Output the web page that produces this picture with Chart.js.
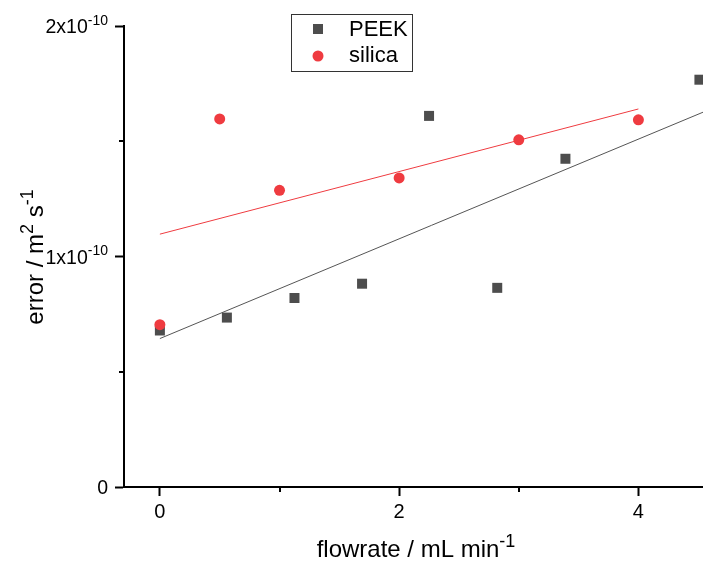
<!DOCTYPE html>
<html>
<head>
<meta charset="utf-8">
<script src="https://cdn.jsdelivr.net/npm/chart.js@4.4.1/dist/chart.umd.min.js"></script>
<style>
html,body{margin:0;padding:0;background:#fff;}
#wrap{width:703px;height:563px;position:relative;}
</style>
</head>
<body>
<div id="wrap"><canvas id="c" width="703" height="563"></canvas></div>
<script>
// ---- data ----
const peekX = [0, 0.56, 1.125, 1.69, 2.25, 2.82, 3.39, 4.51];
const peekY = [0.679e-10, 0.735e-10, 0.82e-10, 0.882e-10, 1.61e-10, 0.864e-10, 1.424e-10, 1.767e-10];
const silicaX = [0, 0.5, 1, 2, 3, 4];
const silicaY = [0.704e-10, 1.597e-10, 1.287e-10, 1.341e-10, 1.506e-10, 1.593e-10];
const peekFitX = [0, 4.54];
const peekFitY = [0.644e-10, 1.626e-10];
const silicaFitX = [0, 4];
const silicaFitY = [1.097e-10, 1.640e-10];
const xTickValues = [0, 2, 4];
const xMinorTicks = [1, 3];
const yTickValues = [0, 1e-10, 2e-10];
const yTickLabels = ['0', '1x10^{-10}', '2x10^{-10}'];
const yMinorTicks = [0.5e-10, 1.5e-10];
const seriesNames = ['PEEK', 'silica'];
const xTitle = 'flowrate / mL min^{-1}';
const yTitle = 'error / m^{2} s^{-1}';

const FONT = '"Liberation Sans", Arial, sans-serif';
const PEEK_COL = '#4d4d4d';
const SIL_COL = '#ef3b40';
const SUP = 0.74;

function pts(xs, ys){ return xs.map((x,i)=>({x:x, y:ys[i]})); }

function parseSup(s){
  const parts = [];
  const re = /\^\{([^}]*)\}/g;
  let last = 0, m;
  while((m = re.exec(s))){
    if(m.index > last) parts.push({t:s.slice(last, m.index), sup:false});
    parts.push({t:m[1], sup:true});
    last = re.lastIndex;
  }
  if(last < s.length) parts.push({t:s.slice(last), sup:false});
  return parts;
}
function measureSup(ctx, parts, size){
  let w = 0;
  parts.forEach(p=>{
    ctx.font = (p.sup ? Math.round(size*SUP) : size) + 'px ' + FONT;
    w += ctx.measureText(p.t).width;
  });
  return w;
}
// draws text with superscripts; (x,y) = baseline position, align left/center/right
function drawSup(ctx, s, x, y, size, align){
  const parts = parseSup(s);
  const w = measureSup(ctx, parts, size);
  let cx = align === 'right' ? x - w : align === 'center' ? x - w/2 : x;
  ctx.textBaseline = 'alphabetic';
  ctx.textAlign = 'left';
  parts.forEach(p=>{
    const fs = p.sup ? Math.round(size*SUP) : size;
    ctx.font = fs + 'px ' + FONT;
    ctx.fillText(p.t, cx, p.sup ? y - size*0.42 : y);
    cx += ctx.measureText(p.t).width;
  });
}

const decor = {
  id: 'decor',
  afterDraw(chart){
    const ctx = chart.ctx;
    const xs = chart.scales.x, ys = chart.scales.y;
    const area = chart.chartArea;
    ctx.save();
    ctx.fillStyle = '#000';
    ctx.strokeStyle = '#000';
    ctx.lineWidth = 2;
    // minor ticks
    xMinorTicks.forEach(v=>{
      const px = Math.round(xs.getPixelForValue(v));
      ctx.beginPath(); ctx.moveTo(px, area.bottom); ctx.lineTo(px, area.bottom + 5); ctx.stroke();
    });
    yMinorTicks.forEach(v=>{
      const py = Math.round(ys.getPixelForValue(v));
      ctx.beginPath(); ctx.moveTo(area.left, py); ctx.lineTo(area.left - 5, py); ctx.stroke();
    });
    // y tick labels with superscripts
    yTickValues.forEach((v,i)=>{
      const py = ys.getPixelForValue(v);
      drawSup(ctx, yTickLabels[i], area.left - 16, py + 7, 19.5, 'right');
    });
    // axis titles
    drawSup(ctx, xTitle, 416, 557, 24, 'center');
    ctx.save();
    ctx.translate(43, 257);
    ctx.rotate(-Math.PI/2);
    drawSup(ctx, yTitle, 0, 0, 24, 'center');
    ctx.restore();
    // legend
    const lx = 291, ly = 14, lw = 121, lh = 57;
    ctx.fillStyle = '#fff';
    ctx.fillRect(lx, ly, lw, lh);
    ctx.strokeStyle = '#333';
    ctx.lineWidth = 1;
    ctx.strokeRect(lx + 0.5, ly + 0.5, lw, lh);
    ctx.fillStyle = PEEK_COL;
    ctx.fillRect(318 - 5, 29 - 5, 10, 10);
    ctx.fillStyle = SIL_COL;
    ctx.beginPath(); ctx.arc(318, 56, 5.5, 0, Math.PI*2); ctx.fill();
    ctx.fillStyle = '#000';
    ctx.font = '22px ' + FONT;
    ctx.textAlign = 'left';
    ctx.textBaseline = 'middle';
    ctx.fillText(seriesNames[0], 349, 30);
    ctx.fillText(seriesNames[1], 349, 56);
    ctx.restore();
  }
};

new Chart(document.getElementById('c'), {
  type: 'scatter',
  data: {
    datasets: [
      { label: seriesNames[1] + ' fit', type: 'line', data: pts(silicaFitX, silicaFitY),
        borderColor: SIL_COL, borderWidth: 1, pointRadius: 0, fill: false, showLine: true, clip: false, order: 4 },
      { label: seriesNames[0] + ' fit', type: 'line', data: pts(peekFitX, peekFitY),
        borderColor: '#555', borderWidth: 1, pointRadius: 0, fill: false, showLine: true, clip: false, order: 3 },
      { label: seriesNames[0], data: pts(peekX, peekY), pointStyle: 'rect', pointRadius: 7.07,
        backgroundColor: PEEK_COL, borderColor: PEEK_COL, borderWidth: 0, clip: false, order: 2 },
      { label: seriesNames[1], data: pts(silicaX, silicaY), pointStyle: 'circle', pointRadius: 5.5,
        backgroundColor: SIL_COL, borderColor: SIL_COL, borderWidth: 0, clip: false, order: 1 }
    ]
  },
  options: {
    responsive: false,
    animation: false,
    events: [],
    layout: { autoPadding: false, padding: { top: 26, right: 0, left: 0, bottom: 0 } },
    plugins: { legend: { display: false }, tooltip: { enabled: false } },
    scales: {
      x: {
        type: 'linear', min: -0.3, max: 4.54,
        afterFit(s){ s.height = 76; s.paddingLeft = 0; s.paddingRight = 0; },
        afterBuildTicks(s){ s.ticks = xTickValues.map(v=>({value:v})); },
        grid: { drawOnChartArea: false, drawTicks: true, tickLength: 9, tickWidth: 2, tickColor: '#000' },
        border: { display: true, color: '#000', width: 2 },
        ticks: { color: '#000', font: { family: FONT, size: 20 }, padding: 4, maxRotation: 0 },
        title: { display: false }
      },
      y: {
        type: 'linear', min: 0, max: 2e-10,
        afterFit(s){ s.width = 124; s.paddingTop = 0; s.paddingBottom = 0; },
        afterBuildTicks(s){ s.ticks = yTickValues.map(v=>({value:v})); },
        grid: { drawOnChartArea: false, drawTicks: true, tickLength: 9, tickWidth: 2, tickColor: '#000' },
        border: { display: true, color: '#000', width: 2 },
        ticks: { display: false },
        title: { display: false }
      }
    }
  },
  plugins: [decor]
});
</script>
</body>
</html>
